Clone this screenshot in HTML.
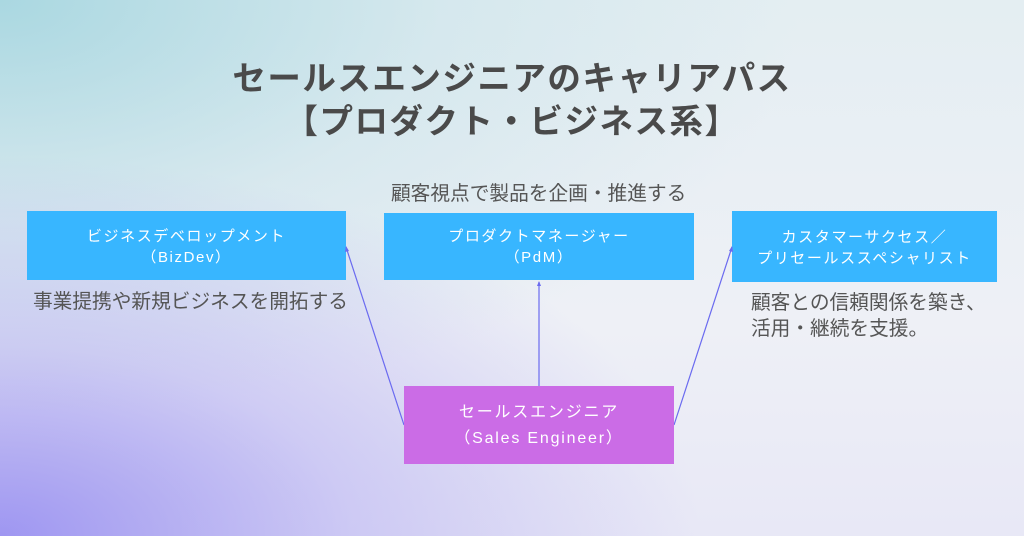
<!DOCTYPE html>
<html><head><meta charset="utf-8"><style>
html,body{margin:0;padding:0}
body{width:1024px;height:536px;position:relative;overflow:hidden;font-family:"Liberation Sans","Noto Sans CJK JP",sans-serif;
background:
radial-gradient(ellipse 700px 380px at 0% 100%, rgba(140,130,240,0.8), rgba(160,150,240,0.38) 50%, rgba(200,200,245,0) 100%),
radial-gradient(ellipse 800px 420px at 0% 0%, rgba(160,212,222,0.85), rgba(195,225,232,0.45) 55%, rgba(230,235,245,0) 100%),
linear-gradient(180deg,#e4eef2 0%,#eef0f6 60%,#e8e8f6 100%);}
.t{position:absolute;left:0;width:1024px;text-align:center;font-weight:bold;font-size:33.5px;color:#4a4a4a;letter-spacing:1.5px}
.box{position:absolute;background:#38b6ff;color:#fff;text-align:center;font-size:15px;line-height:21px;letter-spacing:1.6px;display:flex;flex-direction:column;justify-content:center;box-sizing:border-box}
.d{position:absolute;font-size:19.7px;color:#555;line-height:28px}
</style></head><body>
<div class="t" style="top:51px">セールスエンジニアのキャリアパス</div>
<div class="t" style="top:94px">【プロダクト・ビジネス系】</div>
<div class="d" style="left:391px;top:180px">顧客視点で製品を企画・推進する</div>
<div class="box" style="left:27px;top:211px;width:319px;height:69px;padding-top:2px">ビジネスデベロップメント<br>（BizDev）</div>
<div class="box" style="left:384px;top:213px;width:310px;height:67px;padding-top:0px">プロダクトマネージャー<br>（PdM）</div>
<div class="box" style="left:732px;top:211px;width:265px;height:71px;padding-top:2px">カスタマーサクセス／<br>プリセールススペシャリスト</div>
<div class="d" style="left:33px;top:288px">事業提携や新規ビジネスを開拓する</div>
<div class="d" style="left:751px;top:290px;line-height:26px">顧客との信頼関係を築き、<br>活用・継続を支援。</div>
<svg style="position:absolute;left:0;top:0" width="1024" height="536">
<g stroke="#6a6af0" stroke-width="1.2" fill="none">
<line x1="404" y1="425" x2="346" y2="247"/>
<line x1="539" y1="386" x2="539" y2="282"/>
<line x1="674" y1="425" x2="732" y2="247"/>
</g>
<g fill="#6a6af0"><polygon points="346,246 345,252 349,251"/><polygon points="539,281 537,286 541,286"/><polygon points="732,246 729,251 733,252"/></g>
</svg>
<div class="box" style="left:404px;top:386px;width:270px;height:78px;background:#cb6ce6;font-size:16px;line-height:26px;letter-spacing:1.8px;padding-top:2px">セールスエンジニア<br>（Sales Engineer）</div>
</body></html>
